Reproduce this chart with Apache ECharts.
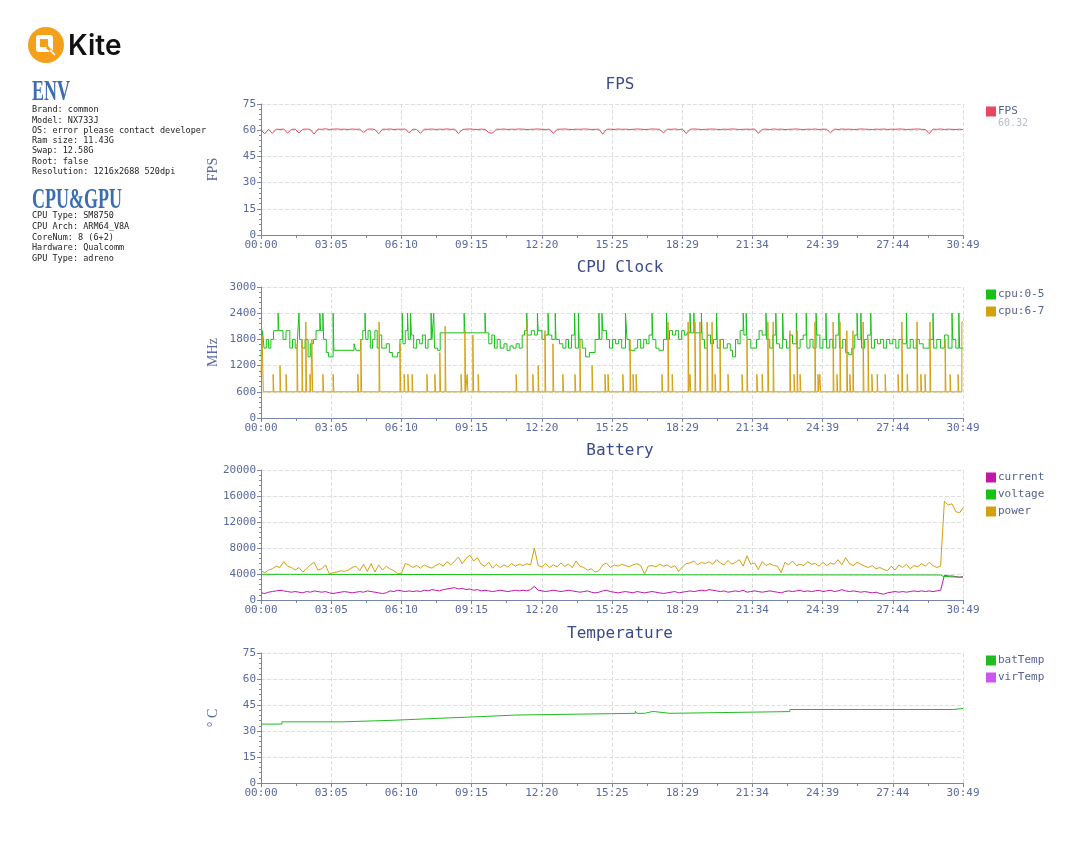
<!DOCTYPE html>
<html>
<head>
<meta charset="utf-8">
<title>Kite report</title>
<script src="https://cdn.jsdelivr.net/npm/echarts@6/dist/echarts.min.js"></script>
<style>
  html, body { margin: 0; padding: 0; background: #fff; }
  #main { width: 1080px; height: 864px; }
</style>
</head>
<body>
<div id="main"></div>
<script>
// 时间轴：总时长 30:49（秒），每 10 秒一个采样点
const totalSec = 1849;
const sampleSec = 10;
const tickStep = 184.9;
const timeLabels = ['00:00', '03:05', '06:10', '09:15', '12:20', '15:25', '18:29', '21:34', '24:39', '27:44', '30:49'];

const fpsAvg = '60.32';
const fpsValues = [
  60.2, 57.9, 60.5, 58.2, 60.6, 60.4, 60.7, 58.3, 60.5, 60.6,
  58.4, 60.5, 60.7, 60.4, 57.8, 60.6, 60.5, 60.8, 60.4, 60.6,
  60.7, 60.5, 60.6, 60.4, 60.7, 60.5, 60.6, 58.6, 60.5, 60.7,
  60.4, 58.0, 60.6, 60.5, 60.7, 60.4, 60.6, 60.5, 60.7, 58.5,
  60.6, 60.4, 58.2, 60.6, 60.5, 60.7, 60.4, 60.6, 60.5, 60.7,
  60.5, 60.6, 58.1, 60.4, 60.6, 60.7, 60.5, 60.4, 60.6, 60.5,
  58.6, 58.3, 60.6, 60.5, 60.7, 60.4, 60.6, 60.5, 60.7, 60.6,
  60.4, 60.5, 60.6, 60.7, 60.5, 60.4, 60.6, 58.2, 60.5, 60.6,
  60.7, 60.5, 60.4, 60.6, 60.5, 60.7, 60.6, 60.4, 60.5, 60.6,
  57.7, 60.5, 60.6, 60.4, 60.7, 60.5, 60.6, 60.4, 60.5, 60.7,
  60.6, 60.4, 60.5, 60.7, 60.6, 60.5, 58.4, 60.6, 60.5, 60.7,
  60.4, 60.6, 58.1, 60.5, 60.7, 60.6, 60.4, 60.5, 60.6, 60.7,
  60.5, 60.4, 60.6, 60.5, 60.7, 60.6, 60.4, 60.5, 60.6, 60.5,
  60.7, 58.2, 60.5, 60.6, 60.4, 60.7, 60.5, 60.6, 60.4, 60.5,
  60.6, 60.7, 60.5, 60.4, 60.6, 60.5, 60.7, 60.4, 60.6, 60.5,
  58.5, 60.6, 60.4, 60.7, 60.5, 60.6, 60.4, 60.5, 60.7, 60.6,
  60.5, 60.4, 60.6, 60.5, 60.7, 60.4, 60.6, 60.5, 60.7, 60.6,
  60.4, 60.5, 60.6, 60.7, 60.5, 60.4, 58.0, 60.6, 60.5, 60.7,
  60.4, 60.6, 60.5, 60.4, 60.6, 60.3
];

// cpu:0-5 频率变化点 [秒, MHz]
const cpuLittlePoints = [
  [0, 1400], [4, 2000], [8, 1600], [14, 1800], [20, 1600], [26, 1800], [33, 2000],
  [45, 2400], [47, 2000], [58, 1800], [66, 2000], [76, 1600], [83, 1800], [90, 1600],
  [96, 1800], [100, 2400], [102, 1800], [108, 1600], [116, 1800], [124, 1400], [130, 1700],
  [138, 1800], [145, 2000], [155, 2400], [157, 2000], [163, 2400], [165, 1800], [172, 1500],
  [178, 1400], [190, 2400], [192, 1550], [245, 1700], [250, 1550], [262, 1800], [268, 2000],
  [274, 2400], [276, 1800], [282, 2000], [288, 1600], [294, 1800], [300, 2000], [306, 1600],
  [312, 1900], [318, 1600], [330, 1700], [338, 1500], [346, 1400], [360, 1500], [366, 1800],
  [372, 2400], [374, 1700], [380, 2000], [386, 2400], [388, 1800], [394, 2400], [396, 1900],
  [402, 1600], [410, 1800], [418, 1700], [425, 1900], [433, 1600], [440, 1800], [448, 2400],
  [450, 1800], [455, 2400], [457, 1600], [465, 1550], [472, 1950], [535, 2400], [537, 1950],
  [590, 2400], [592, 1950], [600, 1700], [608, 1900], [615, 1600], [622, 1800], [630, 1600],
  [640, 1700], [648, 1550], [656, 1650], [664, 1600], [672, 1700], [680, 1600], [688, 1900],
  [694, 2000], [700, 2400], [702, 1900], [712, 2000], [720, 1900], [728, 2400], [730, 2000],
  [740, 1800], [748, 1900], [756, 2400], [758, 1900], [766, 1800], [775, 2400], [777, 1800],
  [786, 1700], [795, 1600], [803, 1800], [810, 1600], [818, 1900], [826, 2400], [828, 1600],
  [836, 2400], [838, 1800], [846, 1600], [855, 1400], [865, 1500], [880, 1800], [890, 2400],
  [892, 1800], [898, 2400], [900, 2000], [910, 1800], [918, 1600], [926, 1800], [934, 1700],
  [942, 1800], [950, 1600], [960, 2400], [964, 1800], [970, 1550], [985, 1600], [992, 1800],
  [1000, 1600], [1008, 1800], [1015, 1700], [1022, 1900], [1030, 2400], [1032, 1800],
  [1040, 1600], [1048, 1550], [1060, 1800], [1068, 2400], [1070, 1800], [1076, 2000],
  [1084, 1900], [1092, 2000], [1100, 1800], [1108, 2000], [1115, 1900], [1122, 1950],
  [1130, 2400], [1132, 1950], [1140, 2400], [1142, 1950], [1160, 2400], [1162, 1800],
  [1168, 1600], [1176, 1900], [1184, 1700], [1192, 1800], [1200, 2400], [1202, 1600],
  [1210, 1800], [1218, 1600], [1228, 1700], [1236, 1550], [1242, 1400], [1250, 1800],
  [1256, 1700], [1262, 2000], [1270, 2400], [1272, 1900], [1278, 2400], [1280, 1800],
  [1290, 1600], [1305, 1800], [1312, 2000], [1320, 1900], [1330, 2400], [1332, 1800],
  [1340, 1600], [1348, 1900], [1356, 2400], [1358, 1700], [1366, 1600], [1374, 2400],
  [1376, 1800], [1384, 1600], [1392, 1900], [1400, 1700], [1410, 2400], [1412, 1600],
  [1420, 1800], [1428, 1900], [1436, 2400], [1438, 1600], [1446, 1800], [1454, 1600],
  [1462, 2400], [1464, 1900], [1472, 1600], [1480, 1800], [1488, 2400], [1490, 1600],
  [1498, 1800], [1506, 1600], [1514, 1900], [1522, 2400], [1524, 1600], [1532, 1800],
  [1540, 1500], [1548, 1450], [1556, 1600], [1564, 1900], [1570, 2400], [1572, 1800],
  [1580, 2400], [1582, 1600], [1590, 1800], [1598, 1900], [1606, 2400], [1608, 1600],
  [1616, 1800], [1624, 1700], [1632, 1800], [1640, 1600], [1648, 1800], [1656, 1700],
  [1664, 1800], [1672, 1600], [1680, 1800], [1690, 1700], [1700, 2400], [1702, 1600],
  [1710, 1800], [1718, 1600], [1726, 1800], [1734, 1700], [1744, 1600], [1760, 1800],
  [1770, 2400], [1772, 1600], [1780, 1800], [1790, 1600], [1800, 1900], [1810, 1600],
  [1820, 2400], [1822, 1800], [1830, 1600], [1838, 2400], [1840, 1600], [1849, 1600]
];

// cpu:6-7 频率变化点 [秒, MHz]
const cpuBigPoints = [
  [0, 1000], [3, 1900], [6, 600], [32, 1000], [34, 600], [50, 1200], [52, 600],
  [66, 1000], [68, 600], [95, 1700], [97, 600], [108, 1800], [110, 600], [118, 2200], [120, 600],
  [129, 1000], [131, 600], [134, 1800], [136, 600], [163, 1000], [165, 600], [190, 1000], [192, 600],
  [255, 1000], [257, 600], [263, 1800], [265, 600], [311, 2200], [313, 600], [366, 1700], [368, 600],
  [377, 1000], [379, 600], [387, 1000], [389, 600], [398, 1000], [400, 600], [437, 1000], [439, 600],
  [458, 1000], [460, 600], [471, 1500], [473, 600], [485, 2100], [487, 600], [527, 1000], [529, 600],
  [537, 2000], [539, 600], [543, 1000], [545, 600], [558, 1900], [560, 600], [572, 1000], [574, 600],
  [672, 1000], [674, 600], [701, 2200], [703, 600], [716, 1000], [718, 600], [730, 1200], [732, 600],
  [748, 2000], [750, 600], [769, 1700], [771, 600], [795, 1000], [797, 600], [827, 1000], [829, 600],
  [840, 1800], [842, 600], [872, 1200], [874, 600], [906, 1000], [908, 600], [914, 1000], [916, 600],
  [953, 1000], [955, 600], [972, 1800], [974, 600], [980, 1000], [982, 600], [988, 1000], [990, 600],
  [1056, 1000], [1058, 600], [1072, 2200], [1074, 600], [1083, 1000], [1085, 600], [1125, 2200], [1127, 600],
  [1130, 1000], [1132, 600], [1143, 2200], [1145, 600], [1156, 2200], [1158, 600], [1175, 2200], [1177, 600],
  [1188, 2200], [1190, 600], [1196, 1000], [1198, 600], [1209, 1800], [1211, 600], [1230, 1000], [1232, 600],
  [1267, 1000], [1269, 600], [1280, 1800], [1282, 600], [1306, 1000], [1308, 600], [1320, 1000], [1322, 600],
  [1335, 2200], [1337, 600], [1349, 2200], [1351, 600], [1393, 2000], [1395, 600], [1404, 1000], [1406, 600],
  [1412, 2000], [1414, 600], [1420, 1000], [1422, 600], [1459, 2200], [1461, 600], [1467, 1000], [1469, 600],
  [1472, 1000], [1474, 600], [1507, 2200], [1509, 600], [1517, 1000], [1519, 600], [1525, 2200], [1527, 600],
  [1543, 2000], [1545, 600], [1551, 1000], [1553, 600], [1559, 2000], [1561, 600], [1586, 2200], [1588, 600],
  [1599, 1800], [1601, 600], [1609, 1000], [1611, 600], [1623, 1000], [1625, 600], [1644, 1000], [1646, 600],
  [1678, 1000], [1680, 600], [1688, 2200], [1690, 600], [1702, 1000], [1704, 600], [1728, 2200], [1730, 600],
  [1738, 1000], [1740, 600], [1749, 1000], [1751, 600], [1762, 2200], [1764, 600], [1802, 1800], [1804, 600],
  [1815, 1000], [1817, 600], [1836, 1000], [1838, 600], [1846, 2200], [1849, 2200]
];

const batCurrent = [
  1100, 1000, 1200, 1300, 1400, 1500, 1400, 1300, 1200, 1300,
  1200, 1100, 1300, 1200, 1400, 1300, 1200, 1300, 1100, 1000,
  1100, 1200, 1300, 1200, 1100, 1200, 1300, 1200, 1400, 1300,
  1200, 1100, 1000, 1100, 1400, 1300, 1500, 1400, 1300, 1400,
  1300, 1400, 1300, 1500, 1400, 1600, 1500, 1400, 1600, 1700,
  1800, 1900, 1700, 1800, 1600, 1700, 1500, 1600, 1400, 1500,
  1400, 1300, 1400, 1500, 1400, 1300, 1400, 1500, 1400, 1500,
  1400, 1600, 2100, 1500, 1400, 1300, 1400, 1500, 1400, 1300,
  1400, 1500, 1400, 1300, 1200, 1300, 1400, 1200, 1100, 1200,
  1400, 1500, 1300, 1200, 1100, 1200, 1300, 1200, 1100, 1300,
  1200, 1100, 1200, 1300, 1200, 1100, 1000, 1100, 1200, 1300,
  1100, 1200, 1300, 1400, 1300, 1400, 1500, 1400, 1600, 1500,
  1400, 1300, 1400, 1200, 1300, 1400, 1300, 1500, 1200, 1300,
  1400, 1300, 1200, 1300, 1400, 1300, 1200, 1100, 1300, 1400,
  1300, 1400, 1500, 1300, 1400, 1300, 1400, 1500, 1300, 1400,
  1500, 1300, 1400, 1600, 1400, 1300, 1400, 1300, 1200, 1300,
  1200, 1100, 1200, 1000, 900, 1100, 1200, 1300, 1200, 1300,
  1200, 1300, 1400, 1300, 1400, 1300, 1400, 1300, 1400, 1500,
  3800, 3700, 3700, 3600, 3500, 3600
];

const batPower = [
  4500, 4200, 4600, 4800, 5200, 5000, 5900, 5200, 5000, 4600,
  5000, 4300, 4800, 5400, 5800, 4600, 4800, 5400, 4000, 4200,
  4300, 4500, 4400, 4600, 5000, 5200, 4500, 5500, 4400, 5600,
  4300, 5400, 4600, 5200, 4800, 4500, 4100, 4100, 5600, 5400,
  5000, 5300, 4900, 5400, 5100, 4900, 5300, 5600, 5200, 5900,
  5400, 6000, 6600, 5600, 6400, 6900, 6000, 6500, 5500, 5200,
  5800, 4900, 5500, 5000, 5400, 5100, 5600, 5200, 5500, 5300,
  5600, 5400, 8000, 5300, 5100, 5600, 5000, 5400, 5100, 5700,
  5200, 5500, 5000, 6000, 5200, 5000, 4600, 4800, 4300, 4500,
  5400, 5700, 5000, 5400, 5200, 5500, 5300, 5100, 5400, 5600,
  5300, 4000, 5200, 5300, 5100, 5500, 5200, 5400, 5000, 5300,
  4400, 5100, 5600, 5700, 6000, 5400, 5800, 5600, 5900, 5500,
  6200, 5700, 5400, 6100, 5500, 5800, 6200, 5200, 6800, 5500,
  5700, 4700, 5900, 5300, 5600, 5300, 5200, 4200, 5800, 5400,
  6000, 5300, 5500, 5300, 5900, 5500, 5600, 5200, 5800, 5300,
  5700, 5500, 6200, 5400, 6500, 5600, 5300, 5800, 5500, 5200,
  5000, 5300, 4800, 5000, 4700, 4500, 5200, 4600, 5400, 5000,
  5500, 4800, 5300, 5100, 5600, 5200, 5800, 5300, 5000, 5200,
  15200, 14600, 14800, 13600, 13400, 14200
];

const voltageTimes = [0, 78, 82, 900, 1790, 1796, 1820, 1849];
const voltageValues = [3950, 3950, 3900, 3880, 3850, 3650, 3550, 3500];

const batTempTimes = [0, 55, 216, 350, 464, 579, 669, 986, 990, 1011, 1032, 1077, 1393, 1823, 1849];
const batTempValues = [34.0, 35.3, 36.2, 37.3, 38.3, 39.2, 40.2, 41.4, 40.2, 41.3, 40.2, 41.2, 42.4, 43.0, 43.0];
const virTempValues = [];

const envLines = [
  'Brand: common',
  'Model: NX733J',
  'OS: error please contact developer',
  'Ram size: 11.43G',
  'Swap: 12.58G',
  'Root: false',
  'Resolution: 1216x2688 520dpi'
];
const cpuGpuLines = [
  'CPU Type: SM8750',
  'CPU Arch: ARM64_V8A',
  'CoreNum: 8 (6+2)',
  'Hardware: Qualcomm',
  'GPU Type: adreno'
];

// ---- 样式 ----
const MONO = '"DejaVu Sans Mono", monospace';
const SERIF = '"Liberation Serif", serif';
const labelColor = '#5a69a0';
const axisColor = '#7785ab';
const titleColor = '#3a4a8c';
const ORANGE_LOGO = '#f5a01a';

function sampled(values) {
  return values.map((v, i) => [Math.min(i * sampleSec, totalSec), v]);
}
function paired(times, values) {
  return times.map((t, i) => [t, values[i]]);
}

const panels = [
  { title: 'FPS', top: 104, height: 131, max: 75, interval: 15, yName: 'FPS' },
  { title: 'CPU Clock', top: 287, height: 131, max: 3000, interval: 600, yName: 'MHz' },
  { title: 'Battery', top: 470, height: 130, max: 20000, interval: 4000, yName: '' },
  { title: 'Temperature', top: 653, height: 130, max: 75, interval: 15, yName: '° C' }
];

const grids = panels.map(p => ({
  left: 261, top: p.top, width: 702, height: p.height,
  outerBoundsMode: 'none', containLabel: false
}));

const xAxes = panels.map((p, idx) => ({
  type: 'value',
  gridIndex: idx,
  min: 0,
  max: totalSec,
  interval: tickStep,
  axisLine: { show: true, lineStyle: { color: axisColor, width: 1 } },
  axisTick: { show: true, length: 4, lineStyle: { color: axisColor } },
  minorTick: { show: true, splitNumber: 2, length: 3, lineStyle: { color: axisColor } },
  axisLabel: {
    color: labelColor, fontFamily: MONO, fontSize: 11, margin: 5,
    formatter: v => timeLabels[Math.round(v / tickStep)] || ''
  },
  splitLine: { show: true, lineStyle: { color: '#dedede', type: 'dashed', width: 1 } },
  minorSplitLine: { show: false }
}));

const yAxes = panels.map((p, idx) => ({
  type: 'value',
  gridIndex: idx,
  min: 0,
  max: p.max,
  interval: p.interval,
  name: p.yName,
  nameLocation: 'middle',
  nameGap: 41,
  nameMoveOverlap: false,
  nameTextStyle: { color: labelColor, fontFamily: SERIF, fontSize: 14 },
  axisLine: { show: true, lineStyle: { color: axisColor, width: 1 } },
  axisTick: { show: true, length: 4, lineStyle: { color: axisColor } },
  minorTick: { show: true, splitNumber: 5, length: 2, lineStyle: { color: axisColor } },
  axisLabel: { color: labelColor, fontFamily: MONO, fontSize: 11, margin: 5, formatter: v => String(v) },
  splitLine: { show: true, lineStyle: { color: '#dedede', type: 'dashed', width: 1 } }
}));

const titles = panels.map(p => ({
  text: p.title,
  left: 620,
  top: p.top - 27,
  textAlign: 'center',
  padding: 0,
  textStyle: { fontFamily: MONO, fontSize: 16, fontWeight: 'normal', color: titleColor }
}));

function line(name, data, color, gi, extra) {
  return Object.assign({
    name: name,
    type: 'line',
    xAxisIndex: gi,
    yAxisIndex: gi,
    data: data,
    showSymbol: false,
    symbol: 'none',
    color: color,
    lineStyle: { width: 1, color: color },
    emphasis: { disabled: true }
  }, extra || {});
}

const series = [
  line('FPS', sampled(fpsValues), '#e9475d', 0),
  line('cpu:0-5', cpuLittlePoints, '#18c018', 1, { step: 'end' }),
  line('cpu:6-7', cpuBigPoints, '#d3a00f', 1, { step: 'end' }),
  line('current', sampled(batCurrent), '#c018a8', 2),
  line('voltage', paired(voltageTimes, voltageValues), '#18c018', 2),
  line('power', sampled(batPower), '#d3a00f', 2),
  line('batTemp', paired(batTempTimes, batTempValues), '#22bb22', 3, { step: 'end' }),
  line('virTemp', virTempValues, '#cc55ee', 3)
];

const legendTops = [106, 289, 472, 655];
const legendNames = [['FPS'], ['cpu:0-5', 'cpu:6-7'], ['current', 'voltage', 'power'], ['batTemp', 'virTemp']];
const legends = legendNames.map((names, i) => ({
  data: names,
  orient: 'vertical',
  left: 986,
  top: legendTops[i],
  padding: 0,
  icon: 'rect',
  itemWidth: 10,
  itemHeight: 10,
  itemGap: 6,
  selectedMode: false,
  textStyle: { color: '#55628f', fontFamily: MONO, fontSize: 11, padding: [0, 0, 0, -3] }
}));

// 左侧：Logo 与设备信息
const graphics = [
  { type: 'circle', shape: { cx: 46, cy: 45, r: 18 }, style: { fill: ORANGE_LOGO } },
  { type: 'rect', shape: { x: 36, y: 35, width: 17, height: 17, r: 3 }, style: { fill: '#fff' } },
  { type: 'rect', shape: { x: 40, y: 39, width: 8, height: 8 }, style: { fill: ORANGE_LOGO } },
  { type: 'line', shape: { x1: 47, y1: 47, x2: 56, y2: 56 }, style: { stroke: ORANGE_LOGO, lineWidth: 3 } },
  { type: 'line', shape: { x1: 50, y1: 50, x2: 55, y2: 55 }, style: { stroke: '#fff', lineWidth: 1.5 } },
  { type: 'text', x: 68, y: 47, style: { text: 'Kite', font: '600 28px Inter', fill: '#111', textVerticalAlign: 'middle' } },
  { type: 'text', x: 32, y: 92, scaleX: 0.6, style: { text: 'ENV', font: 'bold 30px ' + SERIF, fill: '#3b6db3', textVerticalAlign: 'middle' } },
  { type: 'text', x: 32, y: 200, scaleX: 0.6, style: { text: 'CPU&GPU', font: 'bold 30px ' + SERIF, fill: '#3b6db3', textVerticalAlign: 'middle' } },
  { type: 'text', x: 998, y: 123, style: { text: fpsAvg, font: '10px ' + MONO, fill: '#b4bccf', textVerticalAlign: 'middle' } }
];
envLines.forEach((t, i) => {
  graphics.push({ type: 'text', x: 32, y: 110 + i * 10.3, style: { text: t, font: '8.5px ' + MONO, fill: '#222', textVerticalAlign: 'middle' } });
});
cpuGpuLines.forEach((t, i) => {
  graphics.push({ type: 'text', x: 32, y: 216 + i * 10.7, style: { text: t, font: '8.5px ' + MONO, fill: '#222', textVerticalAlign: 'middle' } });
});

const chart = echarts.init(document.getElementById('main'), null, { renderer: 'canvas' });
chart.setOption({
  animation: false,
  backgroundColor: '#fff',
  title: titles,
  grid: grids,
  xAxis: xAxes,
  yAxis: yAxes,
  legend: legends,
  series: series,
  graphic: graphics
});
</script>
</body>
</html>
